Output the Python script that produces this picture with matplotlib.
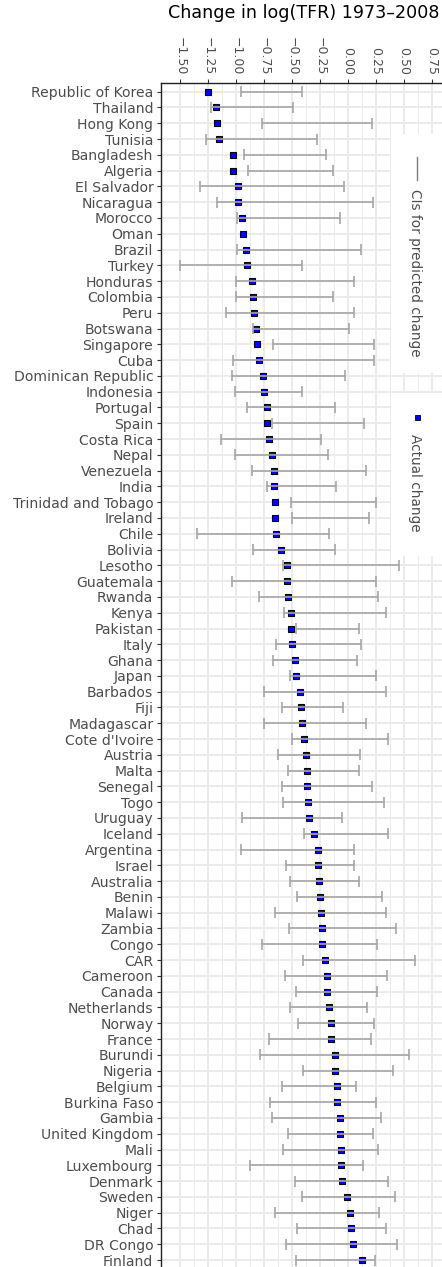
import numpy as np
import matplotlib
matplotlib.use('Agg')
from matplotlib import pyplot as plt
from matplotlib.patches import Rectangle
from matplotlib.lines import Line2D

# Country order (largest fall in fertility first)
countries = ['Republic of Korea', 'Thailand', 'Hong Kong', 'Tunisia', 'Bangladesh',
             'Algeria', 'El Salvador', 'Nicaragua', 'Morocco', 'Oman', 'Brazil',
             'Turkey', 'Honduras', 'Colombia', 'Peru', 'Botswana', 'Singapore',
             'Cuba', 'Dominican Republic', 'Indonesia', 'Portugal', 'Spain',
             'Costa Rica', 'Nepal', 'Venezuela', 'India', 'Trinidad and Tobago',
             'Ireland', 'Chile', 'Bolivia', 'Lesotho', 'Guatemala', 'Rwanda',
             'Kenya', 'Pakistan', 'Italy', 'Ghana', 'Japan', 'Barbados', 'Fiji',
             'Madagascar', "Cote d'Ivoire", 'Austria', 'Malta', 'Senegal', 'Togo',
             'Uruguay', 'Iceland', 'Argentina', 'Israel', 'Australia', 'Benin',
             'Malawi', 'Zambia', 'Congo', 'CAR', 'Cameroon', 'Canada',
             'Netherlands', 'Norway', 'France', 'Burundi', 'Nigeria', 'Belgium',
             'Burkina Faso', 'Gambia', 'United Kingdom', 'Mali', 'Luxembourg',
             'Denmark', 'Sweden', 'Niger', 'Chad', 'DR Congo', 'Finland']

# Actual change in log(TFR)
actual = [-1.253, -1.179, -1.167, -1.152, -1.027, -1.024, -0.985, -0.979, -0.949,
          -0.938, -0.914, -0.899, -0.860, -0.848, -0.836, -0.818, -0.810, -0.792,
          -0.756, -0.753, -0.726, -0.720, -0.705, -0.682, -0.664, -0.661, -0.649,
          -0.649, -0.643, -0.595, -0.545, -0.542, -0.536, -0.509, -0.506, -0.497,
          -0.476, -0.467, -0.429, -0.423, -0.414, -0.393, -0.375, -0.369, -0.366,
          -0.360, -0.348, -0.301, -0.271, -0.271, -0.262, -0.253, -0.244, -0.232,
          -0.232, -0.205, -0.190, -0.190, -0.167, -0.155, -0.155, -0.119, -0.113,
          -0.101, -0.095, -0.071, -0.068, -0.065, -0.062, -0.057, -0.006, 0.018,
          0.027, 0.048, 0.125]

# Confidence interval for the predicted change (Oman has none)
ci_low = [-0.958, -1.226, -0.765, -1.271, -0.926, -0.896, -1.321, -1.173, -0.994,
          np.nan, -0.994, -1.500, -1.000, -1.000, -1.092, -0.848, -0.673, -1.024,
          -1.039, -1.006, -0.902, -0.682, -1.137, -1.006, -0.860, -0.720, -0.509,
          -0.500, -1.348, -0.845, -0.580, -1.039, -0.798, -0.571, -0.461, -0.640,
          -0.670, -0.515, -0.753, -0.589, -0.747, -0.500, -0.625, -0.536, -0.592,
          -0.583, -0.949, -0.396, -0.958, -0.551, -0.515, -0.458, -0.649, -0.527,
          -0.768, -0.402, -0.560, -0.467, -0.515, -0.449, -0.705, -0.789, -0.405,
          -0.592, -0.693, -0.682, -0.539, -0.577, -0.875, -0.470, -0.414, -0.652,
          -0.452, -0.557, -0.464]
ci_high = [-0.408, -0.494, 0.211, -0.280, -0.199, -0.137, -0.036, 0.220, -0.074,
           np.nan, 0.113, -0.414, 0.054, -0.131, 0.054, 0.012, 0.232, 0.232,
           -0.030, -0.414, -0.119, 0.143, -0.244, -0.179, 0.158, -0.110, 0.250,
           0.190, -0.173, -0.116, 0.452, 0.250, 0.271, 0.336, 0.101, 0.116,
           0.083, 0.247, 0.336, -0.048, 0.161, 0.357, 0.107, 0.101, 0.211,
           0.321, -0.051, 0.357, 0.054, 0.057, 0.095, 0.301, 0.342, 0.426,
           0.259, 0.598, 0.348, 0.259, 0.167, 0.229, 0.202, 0.542, 0.405,
           0.071, 0.253, 0.295, 0.223, 0.265, 0.134, 0.357, 0.420, 0.280,
           0.336, 0.435, 0.238]

xticks = [-1.5, -1.25, -1.0, -0.75, -0.5, -0.25, 0.0, 0.25, 0.5, 0.75]

W, H = 442, 1267
fig = plt.figure(figsize=(W / 100, H / 100), dpi=100)
ax = fig.add_axes([161 / W, 0, 1 - 161 / W, (H - 83) / H])

pos = np.arange(len(countries))
actual = np.array(actual)
lo = np.array(ci_low)
hi = np.array(ci_high)
ok = ~np.isnan(lo)

# points first, error bars drawn over them
ax.plot(actual, pos, 's', ms=4.3, mfc='#0000ff', mec='black', mew=0.8,
        zorder=3, clip_on=False)
ebar = dict(color='#a6a6a6', lw=1.2, zorder=4)
ax.hlines(pos[ok], lo[ok], hi[ok], **ebar)
ax.vlines(lo[ok], pos[ok] - 0.35, pos[ok] + 0.35, **ebar)
ax.vlines(hi[ok], pos[ok] - 0.35, pos[ok] + 0.35, **ebar)

ax.set_xlim(-1.670, 0.839)
ax.set_ylim(len(countries) - 1 + 0.44, -0.55)

ax.xaxis.tick_top()
ax.set_xticks(xticks)
ax.set_xticklabels([f'{v:.2f}'.replace('-', '\u2212') for v in xticks],
                   rotation=-90, fontsize=9.0, color='#4d4d4d')
ax.set_xticks(np.array(xticks[:-1]) + 0.125, minor=True)
ax.set_yticks(pos)
ax.set_yticklabels(countries, fontsize=10.1, color='#4d4d4d')
ax.tick_params(which='major', length=3, width=0.8, color='#333333', pad=2.5)
ax.tick_params(which='minor', length=0)

ax.grid(which='major', color='#ebebeb', lw=1.4, zorder=0)
ax.grid(which='minor', axis='x', color='#ebebeb', lw=0.7, zorder=0)
ax.set_axisbelow(True)

for s in ['right', 'bottom']:
    ax.spines[s].set_visible(False)
for s in ['left', 'top']:
    ax.spines[s].set_color('#222222')
    ax.spines[s].set_linewidth(1.0)

fig.text(303.5 / W, 1 - 13 / H, 'Change in log(TFR) 1973\u20132008',
         ha='center', va='center', fontsize=12.6, color='black')

# legend, drawn as two separate rotated keys
def fx(x):
    return x / W

def fy(y):
    return 1 - y / H

fig.add_artist(Rectangle((fx(391), fy(373)), fx(442) - fx(391), fy(134) - fy(373),
                         fc='white', ec='none', zorder=5, transform=fig.transFigure))
fig.add_artist(Rectangle((fx(391), fy(556)), fx(442) - fx(391), fy(393) - fy(556),
                         fc='white', ec='none', zorder=5, transform=fig.transFigure))
fig.add_artist(Line2D([fx(417), fx(417)], [fy(157), fy(180)], color='#7f7f7f',
                      lw=1.0, zorder=6, transform=fig.transFigure))
fig.text(fx(415), fy(273), 'CIs for predicted change', rotation=-90,
         ha='center', va='center', fontsize=9.8, color='#4d4d4d', zorder=6)
fig.add_artist(Line2D([fx(417)], [fy(417)], marker='s', ms=3.6, mfc='#0000ff',
                      mec='black', mew=0.6, zorder=6, transform=fig.transFigure))
fig.text(fx(415), fy(483), 'Actual change', rotation=-90,
         ha='center', va='center', fontsize=9.8, color='#4d4d4d', zorder=6)

plt.savefig('out.png', dpi=100)
